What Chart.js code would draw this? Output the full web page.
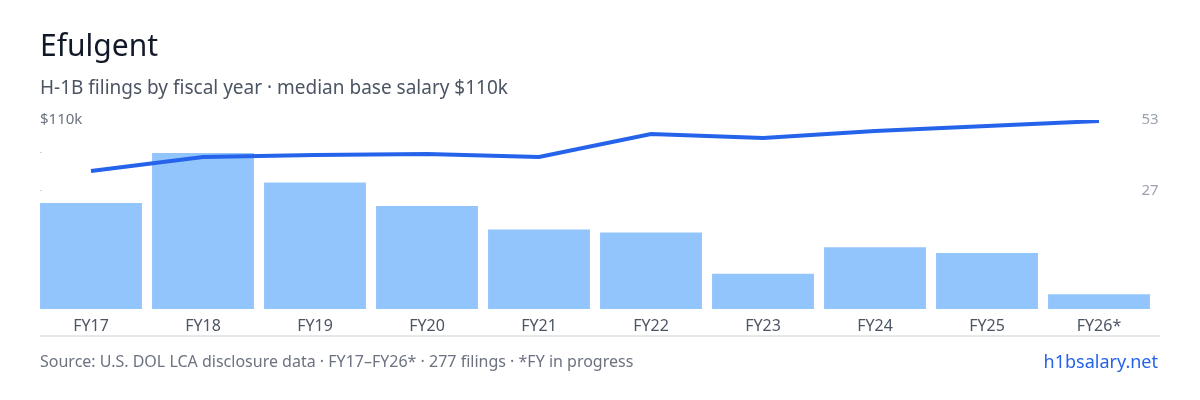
<!DOCTYPE html>
<html><head><meta charset="utf-8">
<script src="https://cdn.jsdelivr.net/npm/chart.js@4"></script>
<style>
body{margin:0;width:1200px;height:400px;background:#fff;font-family:"Noto Sans",sans-serif;overflow:hidden;position:relative}
#t{position:absolute;left:40px;top:24px;font-size:30px;color:#111827}
#s{position:absolute;left:40px;top:74px;font-size:19px;color:#4b5563}
#f{position:absolute;left:40px;top:350px;font-size:16px;color:#6b7280}
#h{position:absolute;right:42px;top:349px;font-size:18px;color:#2563eb}
#w{position:absolute;left:0;top:0;width:1200px;height:400px}
</style></head><body>
<div id="w"><canvas id="c"></canvas></div>
<div id="t">Efulgent</div>
<div id="s">H-1B filings by fiscal year · median base salary $110k</div>
<div id="f">Source: U.S. DOL LCA disclosure data · FY17–FY26* · 277 filings · *FY in progress</div>
<div id="h">h1bsalary.net</div>
<script>
const categories=["FY17","FY18","FY19","FY20","FY21","FY22","FY23","FY24","FY25","FY26*"];
const filings=[36,53,43,35,27,26,12,21,19,5];
const salaryK=[100,102.8,103.2,103.4,102.8,107.4,106.6,108,109,110];
const rightTicks=["53","27"];
const leftTick="$110k";
const deco={id:'deco',afterDraw(ch){
 const c=ch.ctx,x=ch.scales.x;c.save();
 c.font='15px "Noto Sans"';c.fillStyle='#9ca3af';c.textBaseline='middle';
 c.textAlign='center';c.fillText(rightTicks[0],1150,120);c.fillText(rightTicks[1],1150,191);
 c.font='16px "Noto Sans"';c.fillStyle='#4b5563';
 categories.forEach((l,i)=>c.fillText(l,x.getPixelForValue(i),326));
 c.font='15px "Noto Sans"';
 c.textAlign='left';c.fillStyle='#6b7280';c.fillText(leftTick,40,120);
 c.fillStyle='#d1d5db';c.fillRect(40,152,2,1);c.fillRect(40,190,2,1);
 c.fillStyle='#e5e7eb';c.fillRect(40,335,1120,2);c.restore();}};
new Chart(document.getElementById('c'),{data:{labels:categories,datasets:[
 {type:'line',data:salaryK,yAxisID:'ys',borderColor:'#2563eb',borderWidth:4,pointRadius:0,tension:0,order:0},
 {type:'bar',data:filings,yAxisID:'yf',backgroundColor:'#93c5fd',categoryPercentage:1,barPercentage:0.91,order:1}]},
 options:{responsive:true,maintainAspectRatio:false,animation:false,
 layout:{padding:{left:35,right:45,top:120,bottom:91}},
 plugins:{legend:{display:false},tooltip:{enabled:false}},
 scales:{x:{display:false},
 yf:{display:false,min:0,max:64.2},ys:{display:false,min:72.4,max:110.2}}},
 plugins:[deco]});
</script></body></html>
